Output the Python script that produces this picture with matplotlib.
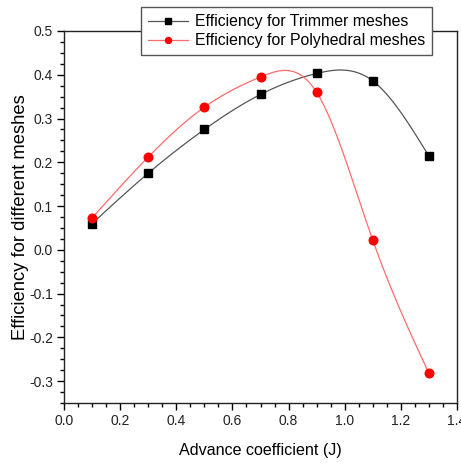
import numpy as np
import matplotlib
matplotlib.use("Agg")
import matplotlib.pyplot as plt
from matplotlib.ticker import MultipleLocator, AutoMinorLocator, FormatStrFormatter

J = [0.1, 0.3, 0.5, 0.7, 0.9, 1.1, 1.3]
eff_trimmer = [0.060, 0.175, 0.275, 0.355, 0.403, 0.386, 0.214]
eff_poly = [0.073, 0.212, 0.326, 0.395, 0.360, 0.022, -0.282]
labels = ["Efficiency for Trimmer meshes", "Efficiency for Polyhedral meshes"]


def natural_spline(x, y, n=300):
    x = np.asarray(x, float)
    y = np.asarray(y, float)
    m = len(x)
    h = np.diff(x)
    A = np.zeros((m, m))
    b = np.zeros(m)
    A[0, 0] = A[-1, -1] = 1
    for i in range(1, m - 1):
        A[i, i - 1] = h[i - 1]
        A[i, i] = 2 * (h[i - 1] + h[i])
        A[i, i + 1] = h[i]
        b[i] = 6 * ((y[i + 1] - y[i]) / h[i] - (y[i] - y[i - 1]) / h[i - 1])
    M = np.linalg.solve(A, b)
    xs = np.linspace(x[0], x[-1], n)
    idx = np.clip(np.searchsorted(x, xs) - 1, 0, m - 2)
    x0, x1 = x[idx], x[idx + 1]
    hh = x1 - x0
    t0 = x1 - xs
    t1 = xs - x0
    ys = (M[idx] * t0 ** 3 / (6 * hh) + M[idx + 1] * t1 ** 3 / (6 * hh)
          + (y[idx] / hh - M[idx] * hh / 6) * t0
          + (y[idx + 1] / hh - M[idx + 1] * hh / 6) * t1)
    return xs, ys


plt.rcParams['font.family'] = ['Liberation Sans', 'DejaVu Sans']
fig = plt.figure(figsize=(4.61, 4.63), dpi=100)
ax = fig.add_axes([64 / 461, 1 - 403 / 463, (457 - 64) / 461, (403 - 31) / 463])

series = [(eff_trimmer, 'black', 's', '#555555', 5.5), (eff_poly, 'red', 'o', '#ff6b6b', 6.2)]
handles = []
for (vals, col, mk, lc, ms), lab in zip(series, labels):
    xs, ys = natural_spline(J, vals)
    ax.plot(xs, ys, color=lc, lw=0.9, zorder=2)
    ax.plot(J, vals, linestyle='none', marker=mk, color=col, markersize=ms, zorder=3)
    h, = ax.plot([], [], color=lc, lw=0.9, marker=mk, markerfacecolor=col,
                 markeredgecolor=col, markersize=ms * 0.7, label=lab)
    handles.append(h)

ax.set_xlim(0, 1.4)
ax.set_ylim(-0.35, 0.5)
ax.xaxis.set_major_locator(MultipleLocator(0.2))
ax.yaxis.set_major_locator(MultipleLocator(0.1))
ax.xaxis.set_minor_locator(AutoMinorLocator(4))
ax.yaxis.set_minor_locator(AutoMinorLocator(4))
ax.xaxis.set_major_formatter(FormatStrFormatter('%.1f'))
ax.yaxis.set_major_formatter(FormatStrFormatter('%.1f'))
ax.tick_params(which='major', direction='out', length=5, width=1, labelsize=10,
               labelcolor='#222222', pad=3)
ax.tick_params(which='minor', direction='out', length=3, width=1)
for s in ax.spines.values():
    s.set_linewidth(1.0)
    s.set_color('#222222')

ax.set_xlabel("Advance coefficient (J)", fontsize=11.6, labelpad=11)
ax.set_ylabel("Efficiency for different meshes", fontsize=13.2, labelpad=0)

leg = fig.legend(handles=handles, loc='upper right',
                 bbox_to_anchor=(432 / 461, 1 - 7 / 463),
                 bbox_transform=fig.transFigure, borderaxespad=0,
                 fancybox=False, framealpha=1, edgecolor='#555555',
                 fontsize=11.4, handlelength=2.5, handletextpad=0.45,
                 labelspacing=0.25, borderpad=0.45)
leg.get_frame().set_linewidth(1.0)

fig.savefig("out.png", dpi=100)
